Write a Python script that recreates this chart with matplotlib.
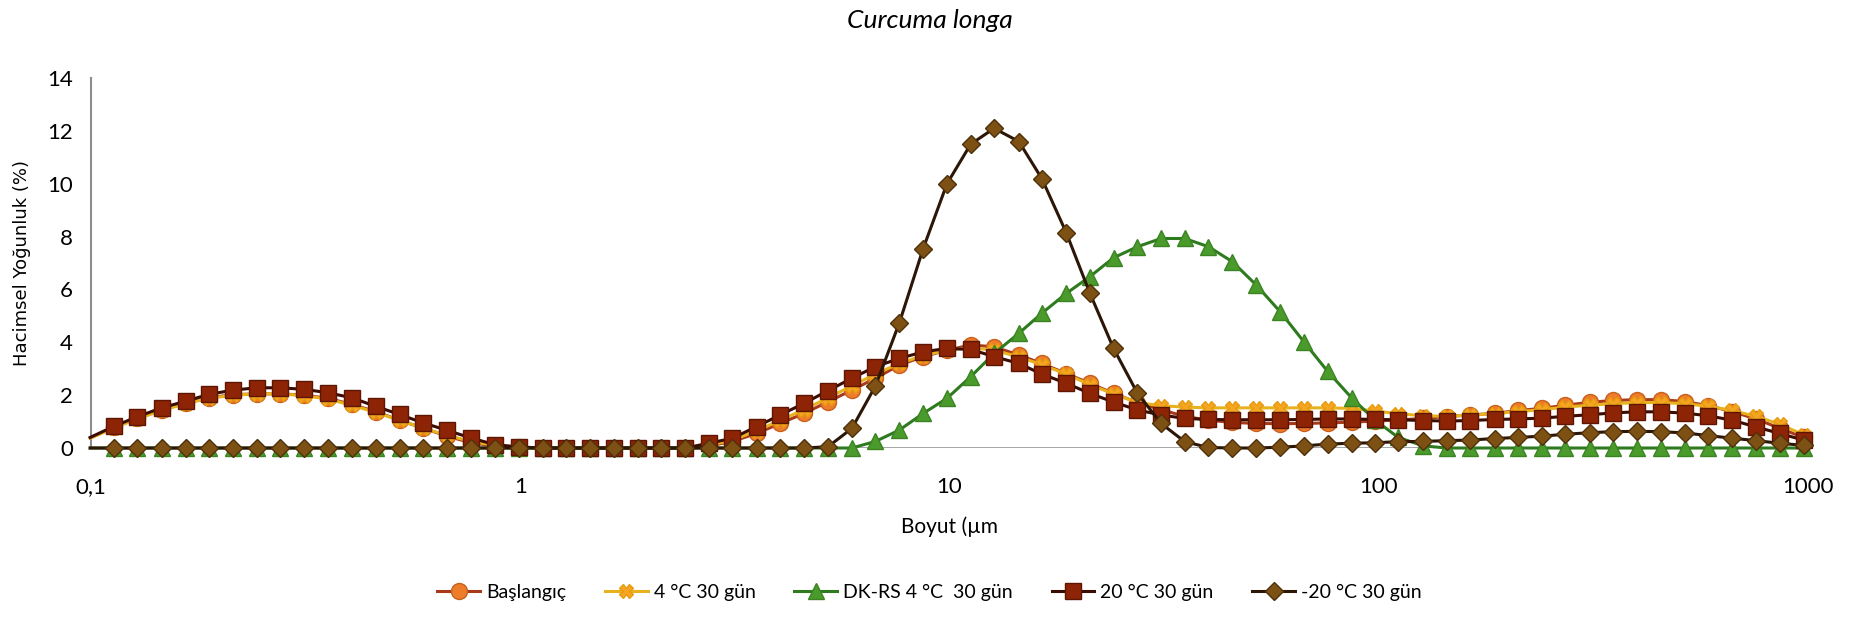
import matplotlib
matplotlib.use("Agg")
import matplotlib.pyplot as plt
from matplotlib.ticker import FixedLocator, FixedFormatter

plt.rcParams['font.family'] = ['Lato', 'DejaVu Sans']

# particle size classes (um)
boyut = [0.0995, 0.113, 0.128, 0.146, 0.166, 0.188, 0.214, 0.243, 0.276, 0.314,
         0.357, 0.405, 0.460, 0.523, 0.594, 0.675, 0.767, 0.872, 0.991, 1.13,
         1.28, 1.45, 1.65, 1.88, 2.13, 2.42, 2.75, 3.12, 3.55, 4.03,
         4.58, 5.21, 5.92, 6.72, 7.64, 8.68, 9.86, 11.2, 12.7, 14.5,
         16.4, 18.7, 21.2, 24.1, 27.4, 31.1, 35.3, 40.1, 45.6, 51.8,
         58.9, 66.9, 76.0, 86.4, 98.1, 111, 127, 144, 163, 186,
         211, 240, 272, 310, 352, 400, 454, 516, 586, 666,
         756, 859, 976]

baslangic = [0.38, 0.78, 1.12, 1.45, 1.70, 1.90, 2.02, 2.05, 2.05, 2.00,
             1.88, 1.65, 1.38, 1.05, 0.75, 0.45, 0.20, 0.08, 0.02, 0.0,
             0.0, 0.0, 0.0, 0.0, 0.0, 0.0, 0.08, 0.25, 0.55, 0.93,
             1.31, 1.75, 2.19, 2.64, 3.14, 3.46, 3.70, 3.90, 3.83, 3.52,
             3.20, 2.82, 2.45, 2.07, 1.72, 1.45, 1.20, 1.05, 0.97, 0.93,
             0.92, 0.93, 0.95, 0.98, 1.02, 1.06, 1.12, 1.19, 1.25, 1.31,
             1.42, 1.50, 1.62, 1.73, 1.80, 1.83, 1.83, 1.76, 1.60, 1.38,
             1.10, 0.75, 0.40]

gun30_4 = [0.37, 0.76, 1.10, 1.42, 1.68, 1.88, 2.00, 2.05, 2.05, 1.98,
           1.85, 1.62, 1.35, 1.05, 0.75, 0.48, 0.25, 0.10, 0.03, 0.0,
           0.0, 0.0, 0.0, 0.0, 0.0, 0.0, 0.10, 0.30, 0.65, 1.05,
           1.45, 1.90, 2.35, 2.80, 3.20, 3.50, 3.70, 3.80, 3.70, 3.45,
           3.15, 2.80, 2.40, 2.05, 1.72, 1.60, 1.55, 1.52, 1.52, 1.52,
           1.52, 1.52, 1.52, 1.50, 1.40, 1.30, 1.22, 1.20, 1.25, 1.30,
           1.38, 1.45, 1.55, 1.62, 1.68, 1.72, 1.72, 1.68, 1.58, 1.42,
           1.20, 0.90, 0.50]

dkrs_4 = [0.0, 0.0, 0.0, 0.0, 0.0, 0.0, 0.0, 0.0, 0.0, 0.0,
          0.0, 0.0, 0.0, 0.0, 0.0, 0.0, 0.0, 0.0, 0.0, 0.0,
          0.0, 0.0, 0.0, 0.0, 0.0, 0.0, 0.0, 0.0, 0.0, 0.0,
          0.0, 0.0, 0.0, 0.25, 0.68, 1.31, 1.88, 2.70, 3.58, 4.34,
          5.10, 5.85, 6.48, 7.20, 7.62, 7.93, 7.93, 7.62, 7.05, 6.17,
          5.16, 4.02, 2.90, 1.90, 1.05, 0.40, 0.08, 0.0, 0.0, 0.0,
          0.0, 0.0, 0.0, 0.0, 0.0, 0.0, 0.0, 0.0, 0.0, 0.0,
          0.0, 0.0, 0.0]

gun30_20 = [0.40, 0.82, 1.18, 1.52, 1.77, 2.03, 2.19, 2.28, 2.28, 2.22,
            2.09, 1.90, 1.58, 1.27, 0.95, 0.67, 0.38, 0.13, 0.04, 0.0,
            0.0, 0.0, 0.0, 0.0, 0.0, 0.0, 0.18, 0.37, 0.81, 1.25,
            1.69, 2.17, 2.64, 3.08, 3.39, 3.64, 3.77, 3.73, 3.46, 3.20,
            2.80, 2.45, 2.07, 1.74, 1.44, 1.25, 1.12, 1.08, 1.07, 1.07,
            1.07, 1.08, 1.10, 1.10, 1.08, 1.07, 1.04, 1.02, 1.04, 1.08,
            1.10, 1.13, 1.20, 1.26, 1.33, 1.37, 1.37, 1.32, 1.22, 1.05,
            0.80, 0.55, 0.30]

eksi20 = [0.0, 0.0, 0.0, 0.0, 0.0, 0.0, 0.0, 0.0, 0.0, 0.0,
          0.0, 0.0, 0.0, 0.0, 0.0, 0.0, 0.0, 0.0, 0.0, 0.0,
          0.0, 0.0, 0.0, 0.0, 0.0, 0.0, 0.0, 0.0, 0.0, 0.0,
          0.0, 0.05, 0.74, 2.35, 4.74, 7.55, 10.0, 11.5, 12.1, 11.6,
          10.2, 8.15, 5.88, 3.77, 2.07, 0.93, 0.24, 0.02, 0.0, 0.0,
          0.03, 0.08, 0.15, 0.18, 0.20, 0.24, 0.25, 0.28, 0.30, 0.36,
          0.40, 0.45, 0.52, 0.58, 0.62, 0.63, 0.62, 0.57, 0.47, 0.37,
          0.28, 0.18, 0.10]

etiketler = ['Başlangıç', '4 °C 30 gün', 'DK-RS 4 °C  30 gün', '20 °C 30 gün', '-20 °C 30 gün']
x_ticks = [0.1, 1, 10, 100, 1000]
x_tick_labels = ['0,1', '1', '10', '100', '1000']
y_ticks = [0, 2, 4, 6, 8, 10, 12, 14]

fig = plt.figure(figsize=(18.59, 6.2), dpi=100)
ax = fig.add_axes([0.049, 0.2774, 0.9236, 0.5966])

stiller = [
    dict(color='#A8391A', marker='o', ms=11.5, mfc='#EE7D2B', mec='#C8601E'),
    dict(color='#E8B21E', marker='X', ms=10, mfc='#F4A623', mec='#E89A10'),
    dict(color='#2E7A1E', marker='^', ms=11.5, mfc='#4B9B2C', mec='#3A8422'),
    dict(color='#3A0C02', marker='s', ms=11.5, mfc='#8E2406', mec='#5E1604'),
    dict(color='#2B1608', marker='D', ms=9.5, mfc='#7D5014', mec='#4E300A'),
]
seriler = [baslangic, gun30_4, dkrs_4, gun30_20, eksi20]

for y, etiket, st in zip(seriler, etiketler, stiller):
    ax.plot(boyut, y, lw=2.2, label=etiket, markevery=slice(1, None),
            clip_on=False, zorder=3, **st)

ax.set_xscale('log')
ax.set_xlim(0.1, 1000)
ax.set_ylim(0, 14)
ax.xaxis.set_major_locator(FixedLocator(x_ticks))
ax.xaxis.set_major_formatter(FixedFormatter(x_tick_labels))
ax.xaxis.set_minor_locator(FixedLocator([]))
ax.set_yticks(y_ticks)
ax.tick_params(axis='both', length=0, labelsize=16)
ax.tick_params(axis='x', pad=21)
ax.tick_params(axis='y', pad=13)

for s in ['top', 'right', 'bottom']:
    ax.spines[s].set_visible(False)
ax.spines['left'].set_color('#8C8C8C')
ax.spines['left'].set_linewidth(1.5)
ax.axhline(0, color='#8C8C8C', lw=1.8, zorder=1)

ax.set_xlabel('Boyut (µm', fontsize=15, labelpad=14)
ax.set_ylabel('Hacimsel Yoğunluk (%)', fontsize=13, family=['DejaVu Sans'], labelpad=12)
fig.suptitle('Curcuma longa', fontsize=19, style='italic', y=0.985)

fig.legend(loc='center', bbox_to_anchor=(0.5, 0.044), ncol=5, frameon=False,
           fontsize=14, columnspacing=2.0, handlelength=2.2, handletextpad=0.3)

fig.savefig('out.png', dpi=100)
